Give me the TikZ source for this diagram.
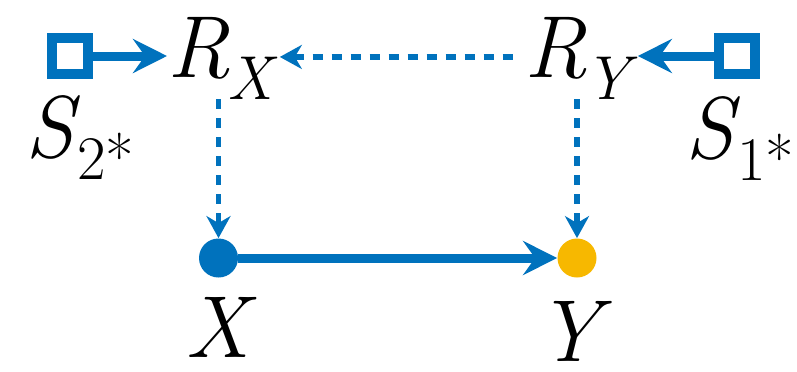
\documentclass[tikz,border=0pt]{standalone}
\usepackage{fontspec}
\usepackage{tikz}
\usetikzlibrary{positioning,arrows.meta,calc}
\definecolor{cB}{HTML}{0072BD}
\definecolor{cY}{HTML}{F7B800}
\newcommand{\var}[2]{\textit{#1}\kern-1.5pt\raisebox{-11pt}{\fontsize{31}{34}\selectfont #2}}

\begin{document}
\begin{tikzpicture}[
  x=0.5pt, y=-0.5pt,
  font=\fontsize{44}{48}\selectfont,
  txt/.style={inner sep=0pt, anchor=base west},
  src/.style={draw=cB, line width=5pt, fill=white, minimum size=18pt, inner sep=0pt},
  dot/.style={circle, fill=#1, minimum size=19.5pt, inner sep=0pt},
  arr/.style={-{Stealth[length=17pt, width=17pt, inset=6pt]}, cB, line width=4.5pt},
  darr/.style={-{Stealth[length=11pt, width=12pt, inset=3.5pt]}, cB, line width=2.6pt, dash pattern=on 5pt off 4.5pt}
]
\useasboundingbox (0,0) rectangle (797,371);
% top row
\node[src] (s2) at (70,56) {};
\node[src] (s1) at (737,56) {};
\node[txt] (rx) at (167,77) {\var{R}{\textit{X}}};
\node[txt] (ry) at (524,77) {\var{R}{\textit{Y}}};
\node[txt] (ls2) at (25,157) {\var{S}{2*}};
\node[txt] (ls1) at (685,158) {\var{S}{1*}};
% bottom row
\node[dot=cB] (x) at (218.5,258) {};
\node[dot=cY] (y) at (577,258) {};
\node[txt, anchor=base] (lx) at (221,357) {\textit{X}};
\node[txt, anchor=base] (ly) at (574,361) {\textit{Y}};
% connectors
\draw[arr] (s2.east) -- (s2.east -| rx.west);
\draw[arr] (s1.west) -- (s1.west -| ry.east);
\draw[darr, {Stealth[length=11pt, width=12pt, inset=3.5pt]}-, shorten <=1pt, shorten >=2pt]
  ($(rx.east)+(0,-1)$) -- ($(ry.west)+(0,-1)$);
\draw[darr] (rx.south -| x.north) -- (x.north);
\draw[darr] (ry.south -| y.north) -- (y.north);
\draw[arr] (x) -- (y);
\end{tikzpicture}
\end{document}
